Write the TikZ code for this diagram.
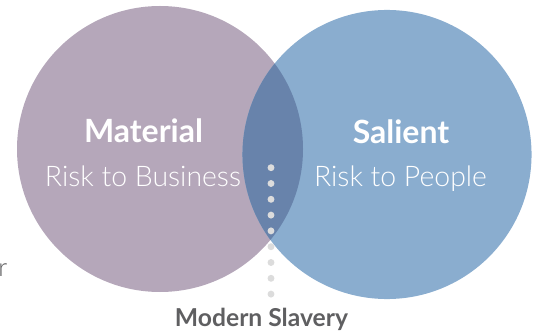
\documentclass[tikz,border=0pt]{standalone}
\usepackage{fontspec}
\setmainfont{Lato}
\newfontfamily\lightfont{Lato Light}
\usepackage{xcolor}
\usepackage{tikz}

\definecolor{matfill}{HTML}{B5A7BA}
\definecolor{salfill}{HTML}{8AADCF}
\definecolor{bothfill}{HTML}{6883AB}
\definecolor{dotgray}{HTML}{DCDCDC}
\definecolor{labelgray}{HTML}{5F5F61}

\tikzset{
  headtext/.style={anchor=base, inner sep=0.75pt, text=white, font=\fontsize{24}{28}\selectfont\bfseries},
  subtext/.style={anchor=base, inner sep=0.75pt, text=white, font=\lightfont\fontsize{21.3}{25}\selectfont},
  dotmark/.style={fill=dotgray}
}

\begin{document}
\begin{tikzpicture}[x=0.75pt,y=0.75pt,yscale=-1,xscale=1]
        \useasboundingbox (0,0) rectangle (538,331);
        \coordinate (matC) at (160,149);
        \coordinate (salC) at (387,154.5);
        % circles
        \fill [matfill] (matC) circle (107.25pt);
        \fill [salfill] (salC) circle (108.4pt);
        \begin{scope}
          \clip (matC) circle (107.25pt);
          \fill [bothfill] (salC) circle (108.4pt);
        \end{scope}
        % dots
        \foreach \i in {0,...,8}
          \fill [dotmark] (271,167.7+15.8*\i) circle (2.6pt);

        \node (mat) [headtext] at (143.5,143) {Material};
        \node (matsub) [subtext] at (143,186.7) {Risk to Business};
        \node (sal) [headtext] at (401,144) {Salient};
        \node (salsub) [subtext] at (400.5,186.7) {Risk to People};
        \node (slavery) [anchor=base, inner sep=0.75pt, text=labelgray, font=\fontsize{18.5}{22}\selectfont\bfseries] at (261.5,326) {Modern Slavery};
        \node (cut) [anchor=base east, inner sep=0pt, text=labelgray, font=\lightfont\fontsize{19}{22}\selectfont] at (7.5,276) {r};
\end{tikzpicture}
\end{document}
